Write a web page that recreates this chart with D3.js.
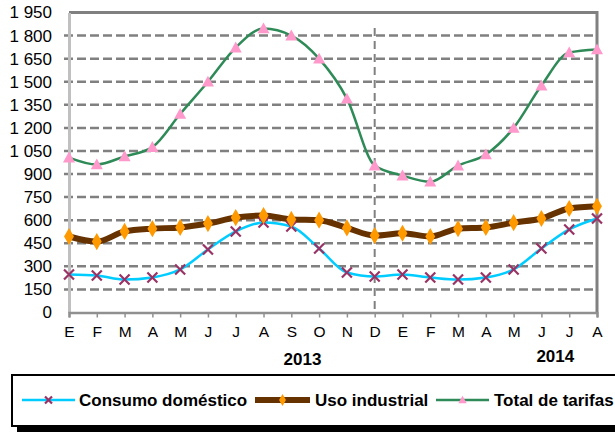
<!DOCTYPE html>
<html>
<head>
<meta charset="utf-8">
<script src="https://cdn.jsdelivr.net/npm/d3@7"></script>
<style>
  body { margin: 0; background: #fff; }
  svg { display: block; font-family: "Liberation Sans", Arial, sans-serif; }
</style>
</head>
<body>
<div class="vis-chart"></div>
<script>
// months Jan 2013 .. Aug 2014
const months = ["E","F","M","A","M","J","J","A","S","O","N","D","E","F","M","A","M","J","J","A"];
const years = [{label: "2013", at: 8.4}, {label: "2014", at: 17.5}];
const yTicks = [0,150,300,450,600,750,900,1050,1200,1350,1500,1650,1800,1950];

const domestico = [247,240,214,228,280,410,527,585,559,416,260,234,247,228,214,228,280,416,540,611];
const industrial = [494,461,527,545,553,578,617,630,605,600,550,500,515,494,545,553,584,611,676,690];
const total = [1007,962,1015,1075,1290,1500,1722,1846,1800,1650,1390,955,890,850,955,1027,1200,1475,1690,1710];

const width = 615, height = 432;
const margin = { top: 12.5, right: 18, bottom: 119.5, left: 69 };

const svg = d3.select(".vis-chart")
    .append("svg")
    .attr("width", width)
    .attr("height", height);

const x = d3.scalePoint()
    .domain(d3.range(months.length))
    .range([margin.left, width - margin.right]);

const y = d3.scaleLinear()
    .domain([0, 1950])
    .range([height - margin.bottom, margin.top]);

const fmt = d3.formatLocale({decimal: ",", thousands: " ", grouping: [3], currency: ["", ""]}).format(",d");

// gridlines
svg.append("g")
    .selectAll("line")
    .data(yTicks.filter(d => d > 0 && d < 1950))
    .join("line")
    .attr("x1", margin.left - 5)
    .attr("x2", x.range()[1])
    .attr("y1", d => y(d))
    .attr("y2", d => y(d))
    .attr("stroke", "#808080")
    .attr("stroke-width", 2.5)
    .attr("stroke-dasharray", "9,4");

// divider between years (December)
svg.append("line")
    .attr("x1", x(11)).attr("x2", x(11))
    .attr("y1", y(1850)).attr("y2", y(0))
    .attr("stroke", "#808080")
    .attr("stroke-width", 2)
    .attr("stroke-dasharray", "8,5");

// top and right border
svg.append("path")
    .attr("d", `M${margin.left},${y(1950)}H${x.range()[1]}V${y(0)}`)
    .attr("fill", "none")
    .attr("stroke", "#808080")
    .attr("stroke-width", 3);

// Y axis
const yAxis = svg.append("g")
    .attr("transform", `translate(${margin.left},0)`)
    .call(d3.axisLeft(y).tickValues(yTicks).tickFormat(fmt).tickSize(0).tickPadding(17));
yAxis.select(".domain").attr("stroke", "#c0c0c0").attr("stroke-width", 3);
yAxis.selectAll("text").attr("font-size", 17).attr("fill", "#000");

// X axis
const xAxis = svg.append("g")
    .attr("transform", `translate(0,${y(0)})`)
    .call(d3.axisBottom(x).tickFormat(i => months[i]).tickSizeOuter(0).tickSize(5).tickPadding(8));
xAxis.select(".domain").attr("stroke", "#909090").attr("stroke-width", 2.5);
xAxis.selectAll(".tick line").attr("stroke", "#909090").attr("stroke-width", 1.5);
xAxis.selectAll("text").attr("font-size", 15.5).attr("fill", "#000");

svg.append("g")
    .selectAll("text")
    .data(years)
    .join("text")
    .attr("x", d => x(0) + d.at * x.step())
    .attr("y", (d, i) => i === 0 ? 365 : 362)
    .attr("text-anchor", "middle")
    .attr("font-size", 17)
    .attr("font-weight", "bold")
    .text(d => d.label);

const line = d3.line()
    .x((d, i) => x(i))
    .y(d => y(d))
    .curve(d3.curveMonotoneX);

const series = [
  {name: "Consumo doméstico", values: domestico, color: "#00CCFF", width: 2.5, marker: "x", mcolor: "#993366"},
  {name: "Uso industrial", values: industrial, color: "#663300", width: 6, marker: "diamond", mcolor: "#FF9900"},
  {name: "Total de tarifas", values: total, color: "#2E8B57", width: 2.5, marker: "triangle", mcolor: "#FF99CC"}
];

function drawMarker(g, type, color, scale) {
  scale = scale || 1;
  if (type === "x") {
    const s = 5 * scale;
    g.append("path")
      .attr("d", `M${-s},${-s}L${s},${s}M${-s},${s}L${s},${-s}`)
      .attr("stroke", color)
      .attr("stroke-width", 2.2)
      .attr("fill", "none");
  } else if (type === "diamond") {
    g.append("path")
      .attr("d", d3.symbol(d3.symbolDiamond, 85 * scale * scale))
      .attr("fill", color);
  } else {
    const s = 6 * scale;
    g.append("path")
      .attr("d", `M0,${-s}L${s},${s * 0.8}L${-s},${s * 0.8}Z`)
      .attr("fill", color);
  }
}

series.forEach(s => {
  svg.append("path")
    .datum(s.values)
    .attr("fill", "none")
    .attr("stroke", s.color)
    .attr("stroke-width", s.width)
    .attr("stroke-linejoin", "round")
    .attr("d", line);
});
series.forEach(s => {
  s.values.forEach((v, i) => {
    const g = svg.append("g").attr("transform", `translate(${x(i)},${y(v)})`);
    drawMarker(g, s.marker, s.mcolor, 1);
  });
});

// legend
const legend = svg.append("g");
legend.append("rect")
    .attr("x", 17).attr("y", 379)
    .attr("width", 700).attr("height", 60)
    .attr("fill", "#000");
legend.append("rect")
    .attr("x", 12).attr("y", 375)
    .attr("width", 700).attr("height", 51)
    .attr("fill", "#fff")
    .attr("stroke", "#000")
    .attr("stroke-width", 2);

const legendItems = [
  {x1: 22, x2: 75, tx: 79},
  {x1: 255, x2: 310, tx: 315},
  {x1: 436, x2: 489, tx: 494}
];
series.forEach((s, i) => {
  const it = legendItems[i];
  const ly = 400;
  legend.append("line")
    .attr("x1", it.x1).attr("x2", it.x2)
    .attr("y1", ly).attr("y2", ly)
    .attr("stroke", s.color)
    .attr("stroke-width", s.width);
  const g = legend.append("g").attr("transform", `translate(${(it.x1 + it.x2) / 2},${ly})`);
  drawMarker(g, s.marker, s.mcolor, 0.7);
  legend.append("text")
    .attr("x", it.tx).attr("y", ly)
    .attr("dy", "0.35em")
    .attr("font-size", 17)
    .attr("font-weight", "bold")
    .text(s.name);
});
</script>
</body>
</html>
